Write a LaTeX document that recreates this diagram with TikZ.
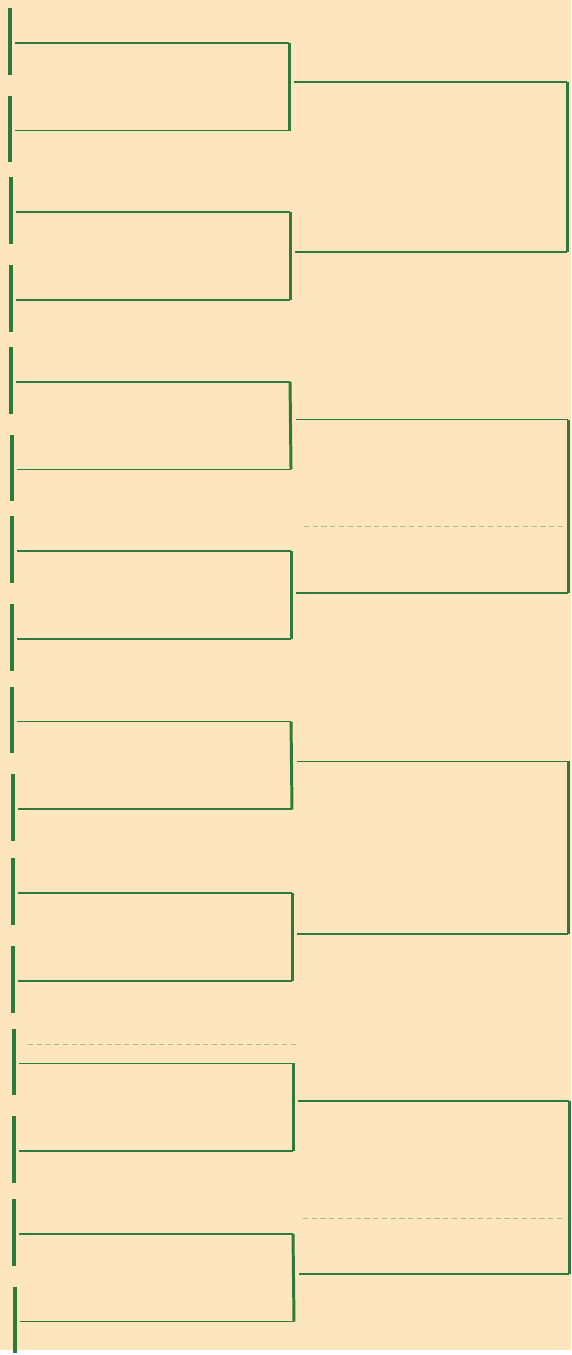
\documentclass[tikz,border=0pt]{standalone}
\usepackage{tikz}
\usetikzlibrary{positioning}
\definecolor{CH_PAPER}{HTML}{FDE6BE}
\definecolor{CH_GREEN}{HTML}{2C7B3B}
\tikzset{
  slotline/.style={draw=CH_GREEN, line width=0.95pt},
  seedbar/.style={draw=CH_GREEN, line width=1.8pt},
  pairbar/.style={draw=CH_GREEN, line width=1.7pt},
  ghostline/.style={draw=CH_GREEN!40!CH_PAPER, line width=0.5pt, densely dashed},
}

\begin{document}
\begin{tikzpicture}[x=0.02cm, y=-0.02cm]

  \fill[CH_PAPER] (0,0) rectangle (573,1355);

  % first round slots
  \coordinate (s1)  at (10,43);   \coordinate (e1)  at (290,43);
  \coordinate (s2)  at (10,131);  \coordinate (e2)  at (290,131);
  \coordinate (s3)  at (11,213);  \coordinate (e3)  at (291,213);
  \coordinate (s4)  at (11,301);  \coordinate (e4)  at (291,301);
  \coordinate (s5)  at (11,383);  \coordinate (e5)  at (291,383);
  \coordinate (s6)  at (12,471);  \coordinate (e6)  at (292,471);
  \coordinate (s7)  at (12,553);  \coordinate (e7)  at (292,553);
  \coordinate (s8)  at (12,641);  \coordinate (e8)  at (292,641);
  \coordinate (s9)  at (12,724);  \coordinate (e9)  at (292,724);
  \coordinate (s10) at (13,812);  \coordinate (e10) at (293,812);
  \coordinate (s11) at (13,896);  \coordinate (e11) at (293,896);
  \coordinate (s12) at (13,984);  \coordinate (e12) at (293,984);
  \coordinate (s13) at (14,1067); \coordinate (e13) at (294,1067);
  \coordinate (s14) at (14,1155); \coordinate (e14) at (294,1155);
  \coordinate (s15) at (14,1238); \coordinate (e15) at (294,1238);
  \coordinate (s16) at (15,1326); \coordinate (e16) at (295,1326);

  % second round slots
  \coordinate (w1) at (295,82);   \coordinate (v1) at (569,82);
  \coordinate (w2) at (296,253);  \coordinate (v2) at (569,253);
  \coordinate (w3) at (297,421);  \coordinate (v3) at (570,421);
  \coordinate (w4) at (297,595);  \coordinate (v4) at (570,595);
  \coordinate (w5) at (298,764);  \coordinate (v5) at (570,764);
  \coordinate (w6) at (298,937);  \coordinate (v6) at (570,937);
  \coordinate (w7) at (299,1105); \coordinate (v7) at (571,1105);
  \coordinate (w8) at (300,1278); \coordinate (v8) at (571,1278);

  \draw[seedbar] ([yshift=7mm]s1)  -- ([yshift=-6.4mm]s1);
  \draw[seedbar] ([yshift=7mm]s2)  -- ([yshift=-6.4mm]s2);
  \draw[seedbar] ([yshift=7mm]s3)  -- ([yshift=-6.4mm]s3);
  \draw[seedbar] ([yshift=7mm]s4)  -- ([yshift=-6.4mm]s4);
  \draw[seedbar] ([yshift=7mm]s5)  -- ([yshift=-6.4mm]s5);
  \draw[seedbar] ([yshift=7mm]s6)  -- ([yshift=-6.4mm]s6);
  \draw[seedbar] ([yshift=7mm]s7)  -- ([yshift=-6.4mm]s7);
  \draw[seedbar] ([yshift=7mm]s8)  -- ([yshift=-6.4mm]s8);
  \draw[seedbar] ([yshift=7mm]s9)  -- ([yshift=-6.4mm]s9);
  \draw[seedbar] ([yshift=7mm]s10) -- ([yshift=-6.4mm]s10);
  \draw[seedbar] ([yshift=7mm]s11) -- ([yshift=-6.4mm]s11);
  \draw[seedbar] ([yshift=7mm]s12) -- ([yshift=-6.4mm]s12);
  \draw[seedbar] ([yshift=7mm]s13) -- ([yshift=-6.4mm]s13);
  \draw[seedbar] ([yshift=7mm]s14) -- ([yshift=-6.4mm]s14);
  \draw[seedbar] ([yshift=7mm]s15) -- ([yshift=-6.4mm]s15);
  \draw[seedbar] ([yshift=7mm]s16) -- ([yshift=-6.4mm]s16);

  \draw[slotline] ([xshift=1mm]s1)  -- (e1);
  \draw[slotline] ([xshift=1mm]s2)  -- (e2);
  \draw[slotline] ([xshift=1mm]s3)  -- (e3);
  \draw[slotline] ([xshift=1mm]s4)  -- (e4);
  \draw[slotline] ([xshift=1mm]s5)  -- (e5);
  \draw[slotline] ([xshift=1mm]s6)  -- (e6);
  \draw[slotline] ([xshift=1mm]s7)  -- (e7);
  \draw[slotline] ([xshift=1mm]s8)  -- (e8);
  \draw[slotline] ([xshift=1mm]s9)  -- (e9);
  \draw[slotline] ([xshift=1mm]s10) -- (e10);
  \draw[slotline] ([xshift=1mm]s11) -- (e11);
  \draw[slotline] ([xshift=1mm]s12) -- (e12);
  \draw[slotline] ([xshift=1mm]s13) -- (e13);
  \draw[slotline] ([xshift=1mm]s14) -- (e14);
  \draw[slotline] ([xshift=1mm]s15) -- (e15);
  \draw[slotline] ([xshift=1mm]s16) -- (e16);

  \draw[pairbar] (e1)  -- (e2);
  \draw[pairbar] (e3)  -- (e4);
  \draw[pairbar] (e5)  -- (e6);
  \draw[pairbar] (e7)  -- (e8);
  \draw[pairbar] (e9)  -- (e10);
  \draw[pairbar] (e11) -- (e12);
  \draw[pairbar] (e13) -- (e14);
  \draw[pairbar] (e15) -- (e16);

  \draw[slotline] (w1) -- (v1);
  \draw[slotline] (w2) -- (v2);
  \draw[slotline] (w3) -- (v3);
  \draw[slotline] (w4) -- (v4);
  \draw[slotline] (w5) -- (v5);
  \draw[slotline] (w6) -- (v6);
  \draw[slotline] (w7) -- (v7);
  \draw[slotline] (w8) -- (v8);

  \draw[pairbar] (v1) -- (v2);
  \draw[pairbar] (v3) -- (v4);
  \draw[pairbar] (v5) -- (v6);
  \draw[pairbar] (v7) -- (v8);

  % faint lines showing through
  \coordinate (g1) at (305,528);  \coordinate (h1) at (566,528);
  \coordinate (g2) at (28,1048);  \coordinate (h2) at (298,1048);
  \coordinate (g3) at (304,1223); \coordinate (h3) at (566,1223);
  \draw[ghostline] (g1) -- (h1);
  \draw[ghostline] (g2) -- (h2);
  \draw[ghostline] (g3) -- (h3);

\end{tikzpicture}
\end{document}
